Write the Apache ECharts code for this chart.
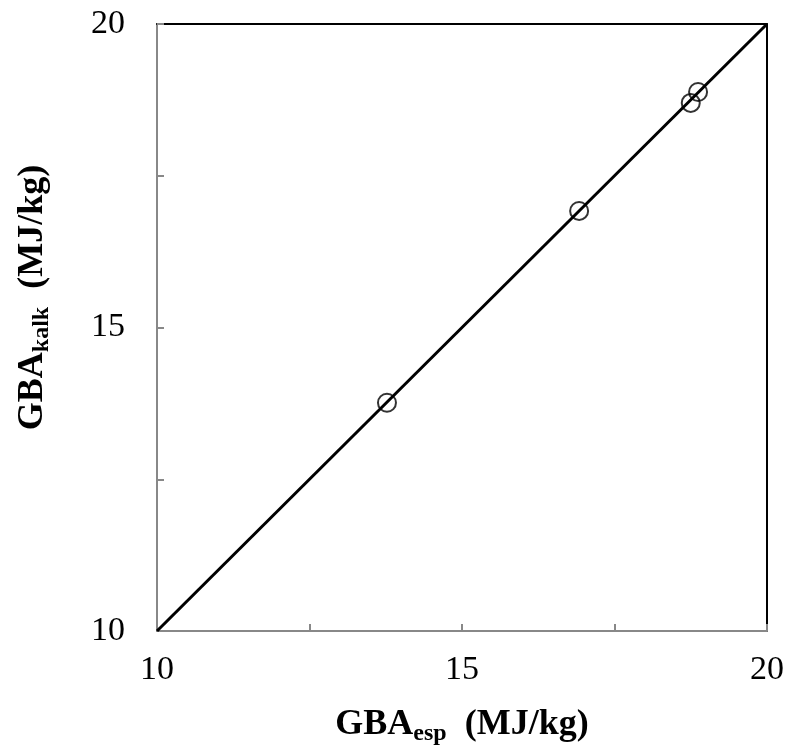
<!DOCTYPE html>
<html><head><meta charset="utf-8">
<script src="https://cdn.jsdelivr.net/npm/echarts@6/dist/echarts.min.js"></script>
<style>html,body{margin:0;padding:0;background:#fff}#c{width:791px;height:756px}</style>
</head><body><div id="c"></div>
<script>
const xMeasured = [13.77, 16.92, 18.75, 18.87];
const yCalculated = [13.76, 16.92, 18.70, 18.88];
const lineX = [10, 20];
const lineY = [10, 20];
const tickLabels = [10, 15, 20];

const chart = echarts.init(document.getElementById('c'));
const font = 'Liberation Serif, Times New Roman, serif';
const pts = xMeasured.map((x, i) => [x, yCalculated[i]]);
const lin = lineX.map((x, i) => [x, lineY[i]]);
const lblFmt = v => tickLabels.includes(Math.round(v * 100) / 100) ? String(v) : '';
const rich = {
  b: {fontFamily: font, fontSize: 36, fontWeight: 'bold', color: '#000', lineHeight: 44},
  s: {fontFamily: font, fontSize: 24, fontWeight: 'bold', color: '#000', lineHeight: 44, padding: [18, 0, 0, 0]}
};
chart.setOption({
  animation: false,
  grid: {left: 157, right: 24, top: 24, bottom: 125},
  xAxis: [{
    type: 'value', min: 10, max: 20, interval: 2.5,
    axisLine: {show: true, lineStyle: {color: '#888', width: 2}},
    axisTick: {show: true, inside: true, length: 7, lineStyle: {color: '#888', width: 2}},
    axisLabel: {formatter: lblFmt, fontFamily: font, fontSize: 34, color: '#000', margin: 22},
    splitLine: {show: false},
    name: '{b|GBA}{s|esp}{b|  (MJ/kg)}', nameLocation: 'middle', nameGap: 72,
    nameTextStyle: {rich: rich}
  }, {
    type: 'value', min: 10, max: 20, position: 'top',
    axisLine: {show: true, lineStyle: {color: '#000', width: 2}},
    axisTick: {show: false}, axisLabel: {show: false}, splitLine: {show: false}
  }],
  yAxis: [{
    type: 'value', min: 10, max: 20, interval: 2.5,
    axisLine: {show: true, lineStyle: {color: '#888', width: 2}},
    axisTick: {show: true, inside: true, length: 7, lineStyle: {color: '#888', width: 2}},
    axisLabel: {formatter: lblFmt, fontFamily: font, fontSize: 34, color: '#000', margin: 32},
    splitLine: {show: false},
    name: '{b|GBA}{s|kalk}{b|  (MJ/kg)}', nameLocation: 'middle', nameGap: 102, nameRotate: 90,
    nameTextStyle: {rich: rich, padding: [0, 0, 0, 60]}
  }, {
    type: 'value', min: 10, max: 20, position: 'right',
    axisLine: {show: true, lineStyle: {color: '#000', width: 2}},
    axisTick: {show: false}, axisLabel: {show: false}, splitLine: {show: false}
  }],
  series: [{
    type: 'line', data: lin, showSymbol: false, symbol: 'none',
    lineStyle: {color: '#000', width: 3}, z: 2
  }, {
    type: 'scatter', data: pts, symbol: 'circle', symbolSize: 18,
    itemStyle: {color: 'rgba(0,0,0,0)', borderColor: '#000', borderWidth: 2}, z: 3
  }]
});
</script></body></html>
